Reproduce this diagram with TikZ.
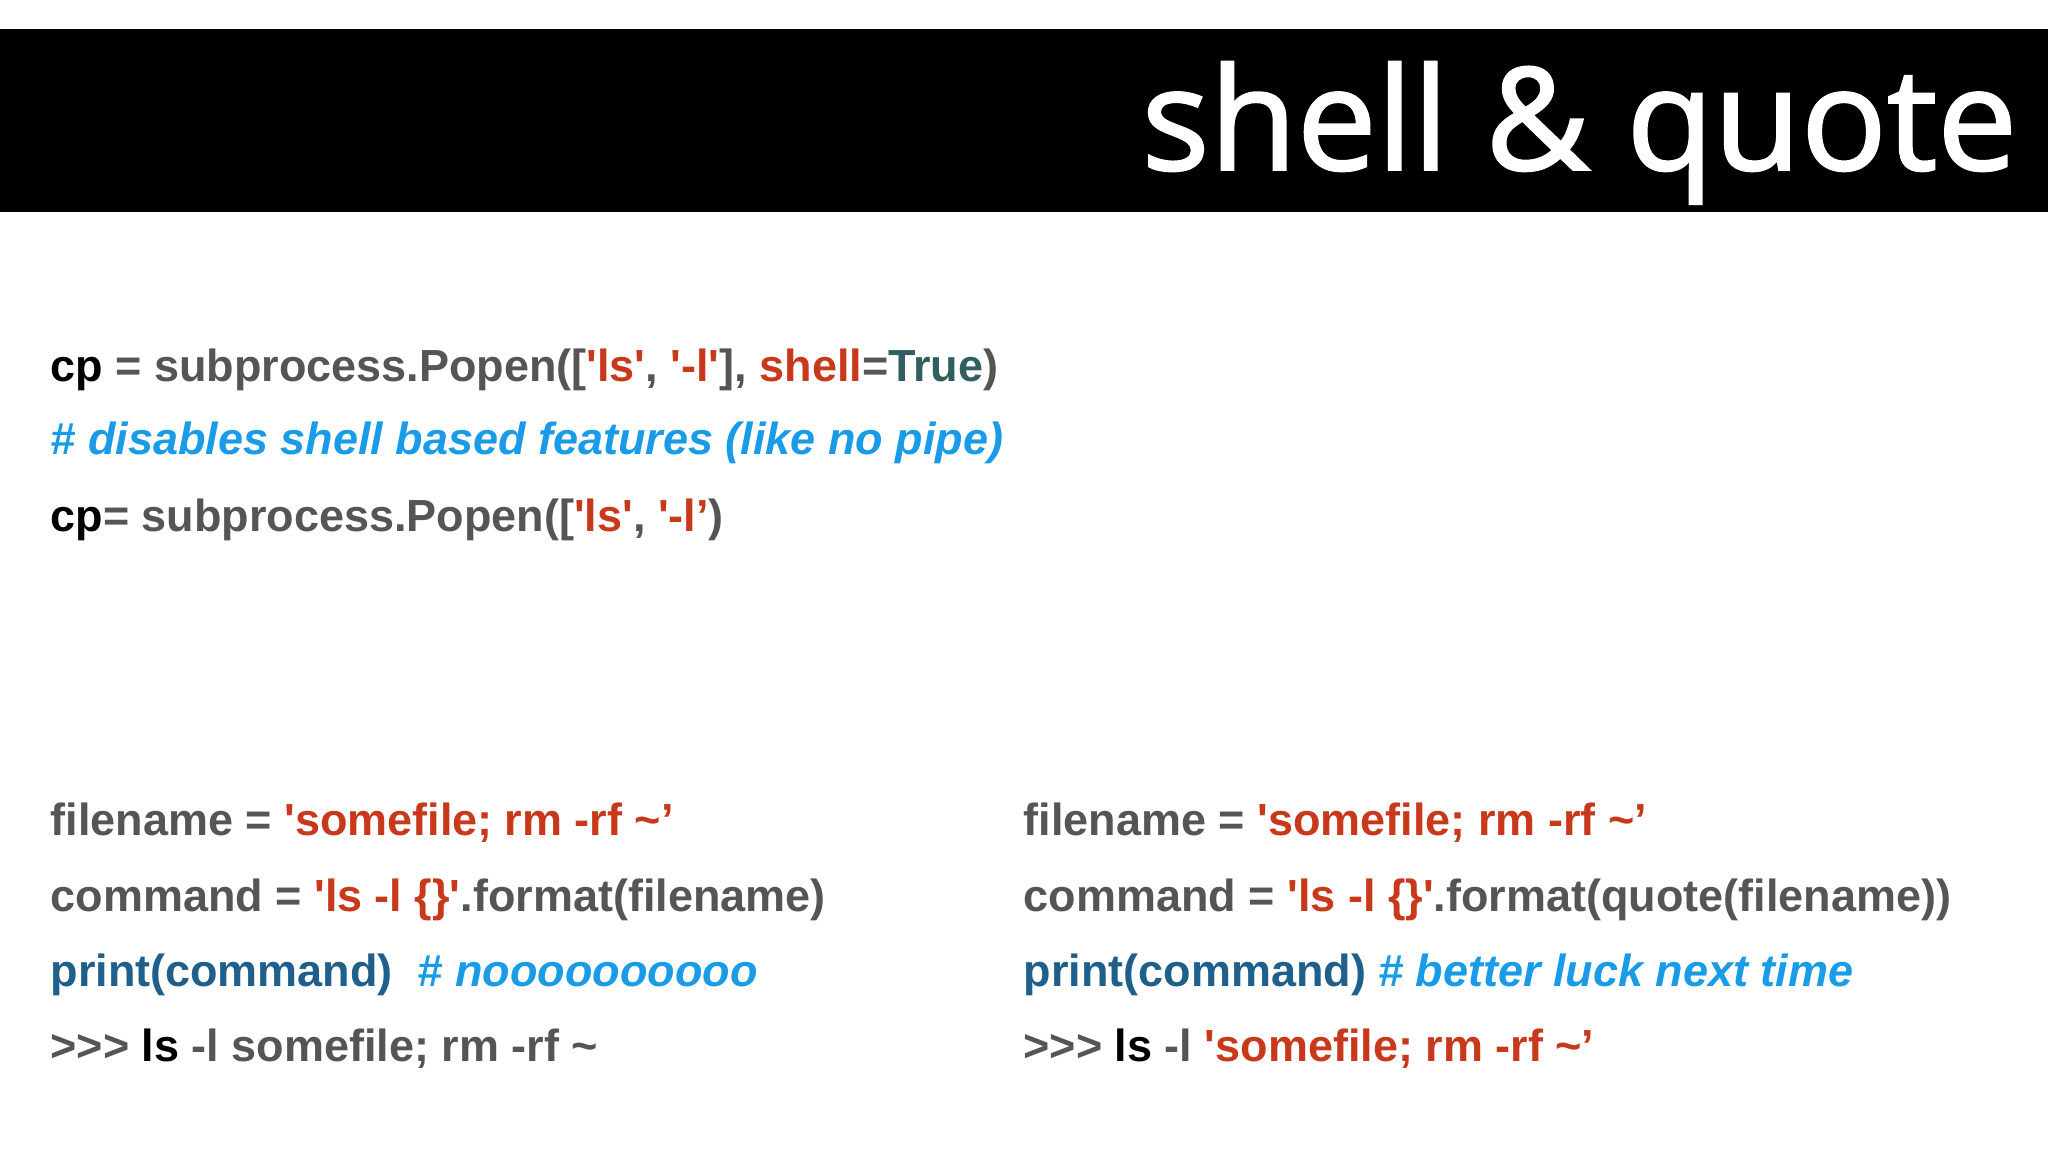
\documentclass[tikz,border=0pt]{standalone}
\usepackage{fontspec}
\setmainfont{Liberation Sans}
\newfontfamily\titlefont[FakeBold=1.6]{Open Sans}
\definecolor{cgray}{HTML}{555555}
\definecolor{cred}{HTML}{C8381A}
\definecolor{cblue}{HTML}{1A9BE8}
\definecolor{cteal}{HTML}{2F5F5F}
\definecolor{cdblue}{HTML}{1F5F8C}
\newcommand{\R}[1]{\textcolor{cred}{#1}}
\newcommand{\K}[1]{\textcolor{black}{#1}}
\newcommand{\Cm}[1]{\textcolor{cblue}{\itshape #1}}
\newcommand{\q}{\textquotesingle}
\begin{document}
\begin{tikzpicture}[x=0.1mm,y=-0.1mm,
  code/.style={anchor=base west,inner sep=0pt,font=\fontsize{9.8}{11}\selectfont\bfseries,text=cgray}]
\useasboundingbox (0,0) rectangle (1568,882);
\fill[white] (0,0) rectangle (1568,882);
\fill[black] (0,22) rectangle (1568,162);
\node[anchor=base east,inner sep=0pt,text=white,font=\titlefont\fontsize{31}{33}\selectfont] (title) at (1545,130) {shell \& quote};
\node[code] (l1) at (38,292) {\K{cp} = subprocess.Popen([\R{\q ls\q}, \R{\q-l\q}], \R{shell}=\textcolor{cteal}{True})};
\node[code] (l2) at (38,348) {\Cm{\# disables shell based features (like no pipe)}};
\node[code] (l3) at (38,407) {\K{cp}= subprocess.Popen([\R{\q ls\q}, \R{\q-l’})};
\node[code] (a1) at (38,640) {filename = \R{\q somefile; rm -rf \textasciitilde’}};
\node[code] (a2) at (38,698) {command = \R{\q ls -l \{\}\q}.format(filename)};
\node[code] (a3) at (38,755) {\textcolor{cdblue}{print(command)}\ \ \Cm{\# noooooooooo}};
\node[code] (a4) at (38,813) {>{}>{}> \K{ls} -l somefile; rm -rf \textasciitilde};
\node[code] (b1) at (783,640) {filename = \R{\q somefile; rm -rf \textasciitilde’}};
\node[code] (b2) at (783,698) {command = \R{\q ls -l \{\}\q}.format(quote(filename))};
\node[code] (b3) at (783,755) {\textcolor{cdblue}{print(command)} \Cm{\# better luck next time}};
\node[code] (b4) at (783,813) {>{}>{}> \K{ls} -l \R{\q somefile; rm -rf \textasciitilde’}};
\end{tikzpicture}
\end{document}
